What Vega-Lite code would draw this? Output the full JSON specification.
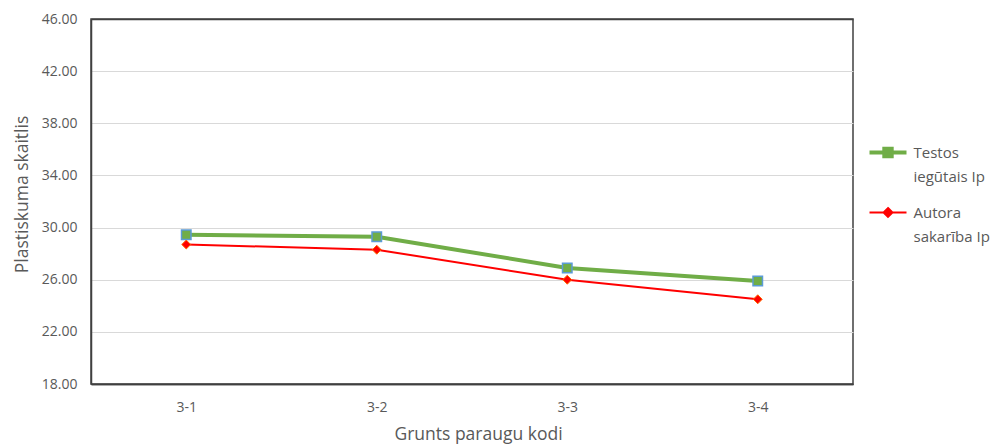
{
  "$schema": "https://vega.github.io/schema/vega-lite/v6.json",
  "autosize": "none",
  "width": 762,
  "height": 365,
  "padding": {"left": 91, "top": 19, "right": 144, "bottom": 64},
  "background": "white",
  "config": {
    "font": "Open Sans",
    "view": {"stroke": "#404040", "strokeWidth": 1.5},
    "axis": {"labelColor": "#595959", "titleColor": "#595959", "labelFontSize": 14, "titleFontSize": 17.5, "titleFontWeight": "normal", "domain": true, "domainColor": "#404040", "domainWidth": 1.5, "ticks": false}
  },
  "data": {
    "values": [
      {"code": "3-1", "series": "Testos iegūtais Ip", "value": 29.45},
      {"code": "3-2", "series": "Testos iegūtais Ip", "value": 29.3},
      {"code": "3-3", "series": "Testos iegūtais Ip", "value": 26.9},
      {"code": "3-4", "series": "Testos iegūtais Ip", "value": 25.9},
      {"code": "3-1", "series": "Autora sakarība Ip", "value": 28.7},
      {"code": "3-2", "series": "Autora sakarība Ip", "value": 28.3},
      {"code": "3-3", "series": "Autora sakarība Ip", "value": 26.0},
      {"code": "3-4", "series": "Autora sakarība Ip", "value": 24.5}
    ]
  },
  "encoding": {
    "x": {"field": "code", "type": "nominal", "scale": {"paddingInner": 0, "paddingOuter": 0},
      "axis": {"title": "Grunts paraugu kodi", "labelAngle": 0, "labelPadding": 16, "titlePadding": 11, "titleX": 387, "grid": false}},
    "y": {"field": "value", "type": "quantitative", "scale": {"domain": [18, 46], "nice": false, "zero": false},
      "axis": {"title": "Plastiskuma skaitlis", "format": ".2f", "values": [18, 22, 26, 30, 34, 38, 42, 46], "labelPadding": 14, "titlePadding": 10, "titleY": 175,
        "gridColor": {"condition": {"test": "datum.value == 46 || datum.value == 18", "value": "#404040"}, "value": "#D9D9D9"},
        "gridWidth": {"condition": {"test": "datum.value == 46 || datum.value == 18", "value": 1.5}, "value": 1}}}
  },
  "layer": [
    {
      "transform": [{"filter": "datum.series == 'Testos iegūtais Ip'"}],
      "mark": {"type": "line", "strokeWidth": 4},
      "encoding": {
        "color": {"field": "series", "type": "nominal",
          "scale": {"domain": ["Testos iegūtais Ip", "Autora sakarība Ip"], "range": ["#70AD47", "#FF0000"]},
          "legend": {
            "title": null, "orient": "none", "legendX": 789.5, "legendY": 126,
            "symbolSize": 1369, "symbolStrokeWidth": 3, "labelFontSize": 15, "labelColor": "#595959",
            "labelLimit": 200, "rowPadding": 19, "labelOffset": 18, "labelBaseline": "middle",
            "labelExpr": "datum.label == 'Testos iegūtais Ip' ? ['Testos', 'iegūtais Ip'] : ['Autora', 'sakarība Ip']",
            "encode": {
              "symbols": {"update": {
                "shape": {"signal": "datum.value == 'Testos iegūtais Ip' ? 'M-1,0H1M-0.2,-0.2H0.2V0.2H-0.2Z' : 'M-1,0H1M0,-0.24L0.24,0L0,0.24L-0.24,0Z'"},
                "strokeWidth": {"signal": "datum.value == 'Testos iegūtais Ip' ? 4 : 2"},
                "fill": {"signal": "datum.value == 'Testos iegūtais Ip' ? '#70AD47' : '#FF0000'"}
              }},
              "labels": {"update": {"lineHeight": {"value": 24}}}
            }
          }
        }
      }
    },
    {
      "transform": [{"filter": "datum.series == 'Autora sakarība Ip'"}],
      "mark": {"type": "line", "strokeWidth": 2},
      "encoding": {"color": {"field": "series", "type": "nominal"}}
    },
    {
      "transform": [{"filter": "datum.series == 'Testos iegūtais Ip'"}],
      "mark": {"type": "point", "shape": "square", "size": 90, "filled": true, "fill": "#70AD47", "stroke": "#5B9BD5", "strokeWidth": 1.5, "opacity": 1},
      "encoding": {}
    },
    {
      "transform": [{"filter": "datum.series == 'Autora sakarība Ip'"}],
      "mark": {"type": "point", "shape": "diamond", "size": 80, "filled": true, "fill": "#FF0000", "stroke": "#FF6A00", "strokeWidth": 1, "opacity": 1},
      "encoding": {}
    }
  ]
}
